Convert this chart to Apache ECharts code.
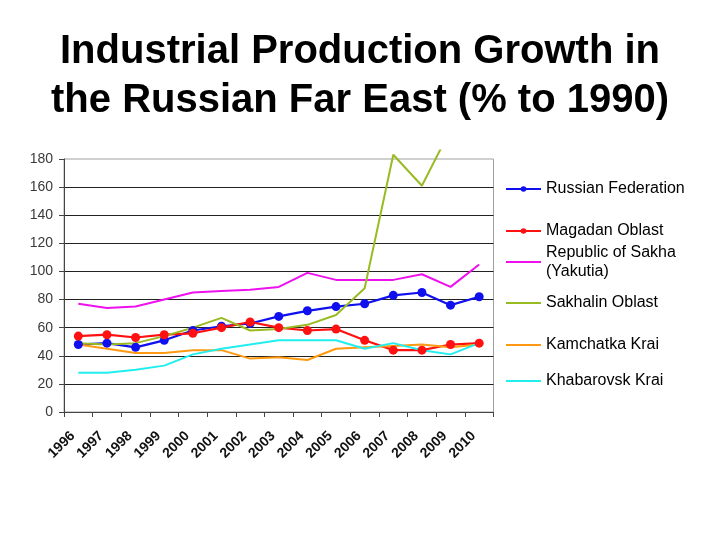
<!DOCTYPE html>
<html>
<head>
<meta charset="utf-8">
<style>
  html, body { margin: 0; padding: 0; background: #fff; }
  #main { width: 720px; height: 540px; }
</style>
<script src="https://cdn.jsdelivr.net/npm/echarts@6/dist/echarts.min.js"></script>
</head>
<body>
<div id="main"></div>
<script>
// 数据
var years = ['1996', '1997', '1998', '1999', '2000', '2001', '2002', '2003',
             '2004', '2005', '2006', '2007', '2008', '2009', '2010'];
var russianFederation = [48, 49, 46, 51, 58, 61, 63, 68, 72, 75, 77, 83, 85, 76, 82];
var magadan   = [54, 55, 53, 55, 56, 60, 64, 60, 58, 59, 51, 44, 44, 48, 49];
var sakha     = [77, 74, 75, 80, 85, 86, 87, 89, 99, 94, 94, 94, 98, 89, 105];
var sakhalin  = [49, 48, 49, 54, 60, 67, 58, 59, 62, 69, 88, 183, 161, 201, 210];
var kamchatka = [48, 45, 42, 42, 44, 44, 38, 39, 37, 45, 46, 47, 48, 46, 48];
var khabarovsk = [28, 28, 30, 33, 41, 45, 48, 51, 51, 51, 45, 49, 44, 41, 49];
var yTicks = [0, 20, 40, 60, 80, 100, 120, 140, 160, 180];

// 绘图区位置
var plotLeft = 64, plotRight = 493.5, plotTop = 159, plotBottom = 412;
var yMax = 180, yClip = 186;
var plotH = plotBottom - plotTop;
var clipTop = plotTop - plotH * (yClip - yMax) / yMax;

var font = '"Liberation Sans", Arial, sans-serif';
var myChart = echarts.init(document.getElementById('main'), null, { renderer: 'canvas' });

// 每个图例单独定位 (间距不均匀)
function legendAt(name, top, withDot) {
    return {
        data: [name],
        orient: 'vertical',
        left: 505,
        top: top,
        padding: 0,
        itemWidth: 35,
        itemHeight: 7,
        itemStyle: withDot ? {} : { opacity: 0 },
        textStyle: { color: '#000', fontSize: 16, lineHeight: 19, fontFamily: font }
    };
}

var option = {
    backgroundColor: '#fff',
    animation: false,
    title: {
        text: 'Industrial Production Growth in\nthe Russian Far East (% to 1990)',
        left: 'center',
        top: 22,
        textStyle: { color: '#000', fontSize: 40, fontWeight: 'bold', lineHeight: 49, fontFamily: font }
    },
    legend: [
        legendAt('Russian Federation', 179.5, true),
        legendAt('Magadan Oblast', 221.5, true),
        legendAt('Republic of Sakha\n(Yakutia)', 243, false),
        legendAt('Sakhalin Oblast', 293.5, false),
        legendAt('Kamchatka Krai', 335.5, false),
        legendAt('Khabarovsk Krai', 371.5, false)
    ],
    grid: [
        { left: plotLeft, right: 720 - plotRight, top: plotTop, bottom: 540 - plotBottom,
          show: true, borderColor: '#a0a0a0', borderWidth: 1, backgroundColor: 'transparent' },
        { left: plotLeft, right: 720 - plotRight, top: clipTop, bottom: 540 - plotBottom }
    ],
    xAxis: [
        {
            type: 'category', gridIndex: 0, data: years, boundaryGap: true,
            axisLine: { lineStyle: { color: '#444', width: 1 } },
            axisTick: { show: true, length: 5, lineStyle: { color: '#444' } },
            axisLabel: { rotate: 45, margin: 16, padding: [0, 8, 0, 0], color: '#111',
                         fontSize: 14, fontWeight: 'bold', fontFamily: font, interval: 0 }
        },
        { type: 'category', gridIndex: 1, data: years, boundaryGap: true, show: false }
    ],
    yAxis: [
        {
            type: 'value', gridIndex: 0, min: 0, max: yMax, interval: 20,
            axisLine: { show: true, lineStyle: { color: '#444', width: 1 } },
            axisTick: { show: true, length: 5, lineStyle: { color: '#444' } },
            axisLabel: { margin: 11, color: '#3a3a3a', fontSize: 14, fontFamily: font,
                         customValues: yTicks },
            splitLine: { show: true, showMinLine: false, showMaxLine: false,
                         lineStyle: { color: '#222', width: 1 } }
        },
        { type: 'value', gridIndex: 1, min: 0, max: yClip, show: false, splitLine: { show: false } }
    ],
    series: [
        { name: 'Russian Federation', type: 'line', xAxisIndex: 1, yAxisIndex: 1, data: russianFederation,
          symbol: 'circle', symbolSize: 9, color: '#1010ee', lineStyle: { width: 2.2 } },
        { name: 'Magadan Oblast', type: 'line', xAxisIndex: 1, yAxisIndex: 1, data: magadan,
          symbol: 'circle', symbolSize: 9, color: '#ff1111', lineStyle: { width: 2.2 } },
        { name: 'Republic of Sakha\n(Yakutia)', type: 'line', xAxisIndex: 1, yAxisIndex: 1, data: sakha,
          symbol: 'none', color: '#ee11ee', lineStyle: { width: 2 } },
        { name: 'Sakhalin Oblast', type: 'line', xAxisIndex: 1, yAxisIndex: 1, data: sakhalin,
          symbol: 'none', color: '#99bb22', lineStyle: { width: 2 } },
        { name: 'Kamchatka Krai', type: 'line', xAxisIndex: 1, yAxisIndex: 1, data: kamchatka,
          symbol: 'none', color: '#ff9911', lineStyle: { width: 2 } },
        { name: 'Khabarovsk Krai', type: 'line', xAxisIndex: 1, yAxisIndex: 1, data: khabarovsk,
          symbol: 'none', color: '#22eeee', lineStyle: { width: 2 } }
    ]
};

myChart.setOption(option);
</script>
</body>
</html>
